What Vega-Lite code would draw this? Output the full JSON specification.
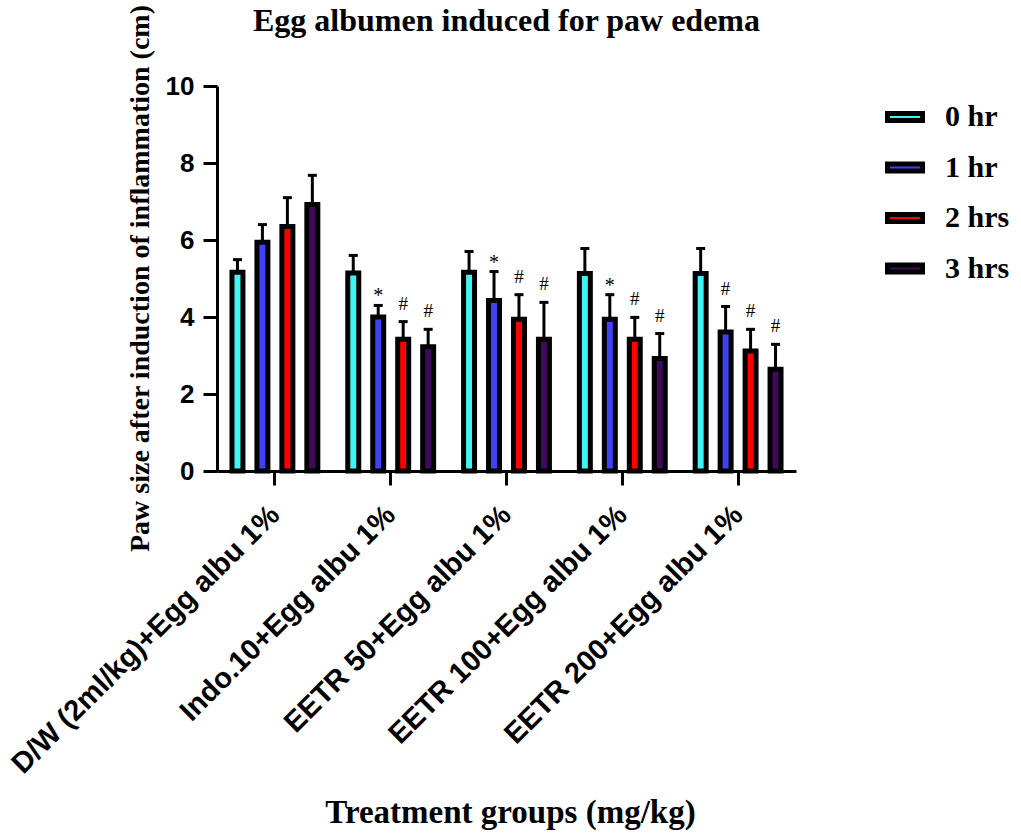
{
  "$schema": "https://vega.github.io/schema/vega-lite/v6.json",
  "width": 579,
  "height": 385,
  "autosize": {"type": "none"},
  "padding": {"left": 217, "top": 86, "right": 225, "bottom": 365},
  "background": "white",
  "config": {"view": {"stroke": null}},
  "title": {
    "text": "Egg albumen induced for paw edema",
    "font": "Liberation Serif",
    "fontSize": 32,
    "fontWeight": "bold",
    "color": "black",
    "anchor": "middle",
    "frame": "group",
    "baseline": "alphabetic",
    "offset": 0,
    "dy": 59
  },
  "data": {
    "values": [
      {"group": "D/W (2ml/kg)+Egg albu 1%", "time": "0 hr", "mean": 5.16, "upper": 5.49, "sig": ""},
      {"group": "D/W (2ml/kg)+Egg albu 1%", "time": "1 hr", "mean": 5.94, "upper": 6.40, "sig": ""},
      {"group": "D/W (2ml/kg)+Egg albu 1%", "time": "2 hrs", "mean": 6.35, "upper": 7.10, "sig": ""},
      {"group": "D/W (2ml/kg)+Egg albu 1%", "time": "3 hrs", "mean": 6.92, "upper": 7.68, "sig": ""},
      {"group": "Indo.10+Egg albu 1%", "time": "0 hr", "mean": 5.14, "upper": 5.60, "sig": ""},
      {"group": "Indo.10+Egg albu 1%", "time": "1 hr", "mean": 4.0, "upper": 4.30, "sig": "*"},
      {"group": "Indo.10+Egg albu 1%", "time": "2 hrs", "mean": 3.42, "upper": 3.88, "sig": "#"},
      {"group": "Indo.10+Egg albu 1%", "time": "3 hrs", "mean": 3.23, "upper": 3.68, "sig": "#"},
      {"group": "EETR 50+Egg albu 1%", "time": "0 hr", "mean": 5.16, "upper": 5.70, "sig": ""},
      {"group": "EETR 50+Egg albu 1%", "time": "1 hr", "mean": 4.43, "upper": 5.18, "sig": "*"},
      {"group": "EETR 50+Egg albu 1%", "time": "2 hrs", "mean": 3.94, "upper": 4.58, "sig": "#"},
      {"group": "EETR 50+Egg albu 1%", "time": "3 hrs", "mean": 3.42, "upper": 4.38, "sig": "#"},
      {"group": "EETR 100+Egg albu 1%", "time": "0 hr", "mean": 5.13, "upper": 5.78, "sig": ""},
      {"group": "EETR 100+Egg albu 1%", "time": "1 hr", "mean": 3.94, "upper": 4.58, "sig": "*"},
      {"group": "EETR 100+Egg albu 1%", "time": "2 hrs", "mean": 3.42, "upper": 3.99, "sig": "#"},
      {"group": "EETR 100+Egg albu 1%", "time": "3 hrs", "mean": 2.92, "upper": 3.57, "sig": "#"},
      {"group": "EETR 200+Egg albu 1%", "time": "0 hr", "mean": 5.13, "upper": 5.78, "sig": ""},
      {"group": "EETR 200+Egg albu 1%", "time": "1 hr", "mean": 3.61, "upper": 4.27, "sig": "#"},
      {"group": "EETR 200+Egg albu 1%", "time": "2 hrs", "mean": 3.12, "upper": 3.68, "sig": "#"},
      {"group": "EETR 200+Egg albu 1%", "time": "3 hrs", "mean": 2.64, "upper": 3.29, "sig": "#"}
    ]
  },
  "encoding": {
    "x": {
      "field": "group",
      "type": "nominal",
      "sort": null,
      "scale": {"paddingInner": 0, "paddingOuter": 0},
      "title": "Treatment groups (mg/kg)",
      "axis": {
        "labelAngle": -45,
        "labelAlign": "right",
        "labelBaseline": "middle",
        "labelFont": "Liberation Sans",
        "labelFontSize": 29,
        "labelFontWeight": "bold",
        "labelColor": "black",
        "labelPadding": 25,
        "labelLimit": 0,
        "labelOverlap": false,
        "labelBound": false,
        "labelFlush": false,
        "domainColor": "black",
        "domainWidth": 3,
        "tickColor": "black",
        "tickWidth": 3,
        "tickSize": 14,
        "titleFont": "Liberation Serif",
        "titleFontSize": 33,
        "titleFontWeight": "bold",
        "titleColor": "black",
        "titleX": 293,
        "titleY": 351,
        "titleBaseline": "alphabetic",
        "titleAlign": "center"
      }
    },
    "xOffset": {
      "field": "time",
      "type": "nominal",
      "sort": null,
      "scale": {"paddingInner": 0.56, "paddingOuter": 0.6}
    }
  },
  "layer": [
    {
      "mark": {"type": "bar", "stroke": "black", "strokeWidth": 5},
      "encoding": {
        "y": {
          "field": "mean",
          "type": "quantitative",
          "scale": {"domain": [0, 10], "nice": false},
          "title": "Paw size after induction of inflammation (cm)",
          "axis": {
            "values": [0, 2, 4, 6, 8, 10],
            "grid": false,
            "domainColor": "black",
            "domainWidth": 3,
            "tickColor": "black",
            "tickWidth": 3,
            "tickSize": 14,
            "labelFont": "Liberation Sans",
            "labelFontSize": 26,
            "labelFontWeight": "bold",
            "labelColor": "black",
            "labelPadding": 9,
            "titleFont": "Liberation Serif",
            "titleFontSize": 28,
            "titleFontWeight": "bold",
            "titleColor": "black",
            "titleX": -77,
            "titleY": 192,
            "titleAngle": -90,
            "titleBaseline": "middle",
            "titleAlign": "center"
          }
        },
        "color": {
          "field": "time",
          "type": "nominal",
          "sort": null,
          "scale": {
            "domain": ["0 hr", "1 hr", "2 hrs", "3 hrs"],
            "range": ["#40F4F4", "#4040F4", "#FF0000", "#3F0A5C"]
          },
          "legend": {
            "title": null,
            "orient": "none",
            "legendX": 673,
            "legendY": 16,
            "padding": 0,
            "symbolType": "M-1.75,-0.35H1.75V0.35H-1.75Z",
            "symbolSize": 400,
            "symbolStrokeWidth": 5,
            "symbolStrokeColor": "black",
            "symbolOpacity": 1,
            "labelFont": "Liberation Serif",
            "labelFontSize": 30,
            "labelFontWeight": "bold",
            "labelColor": "black",
            "labelOffset": 25,
            "rowPadding": 20.5
          }
        }
      }
    },
    {
      "mark": {"type": "rule", "strokeWidth": 3, "color": "black"},
      "encoding": {
        "y": {"field": "mean", "type": "quantitative"},
        "y2": {"field": "upper"}
      }
    },
    {
      "mark": {"type": "tick", "orient": "horizontal", "size": 9, "thickness": 3, "color": "black", "opacity": 1},
      "encoding": {
        "y": {"field": "upper", "type": "quantitative"}
      }
    },
    {
      "transform": [{"filter": "datum.sig === '*'"}],
      "mark": {"type": "text", "font": "Liberation Serif", "fontSize": 20, "baseline": "alphabetic", "dy": -3, "color": "black"},
      "encoding": {
        "y": {"field": "upper", "type": "quantitative"},
        "text": {"field": "sig"}
      }
    },
    {
      "transform": [{"filter": "datum.sig === '#'"}],
      "mark": {"type": "text", "font": "Liberation Serif", "fontSize": 19, "baseline": "alphabetic", "dy": -12, "color": "black"},
      "encoding": {
        "y": {"field": "upper", "type": "quantitative"},
        "text": {"field": "sig"}
      }
    }
  ]
}
